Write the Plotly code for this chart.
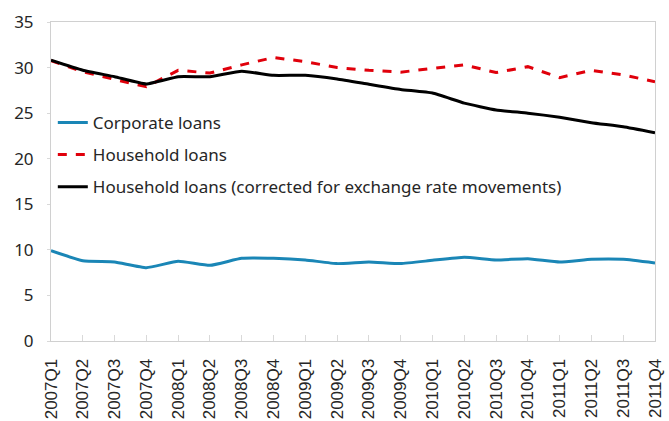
import plotly.graph_objects as go

quarters = [f"{y}Q{q}" for y in range(2007, 2012) for q in range(1, 5)]
corporate = [9.9, 8.8, 8.67, 8.05, 8.74, 8.3, 9.07, 9.07, 8.89, 8.49,
             8.67, 8.49, 8.85, 9.18, 8.89, 9.03, 8.67, 8.96, 8.96, 8.56]
household = [30.75, 29.55, 28.7, 27.9, 29.7, 29.4, 30.3, 31.1, 30.65, 30.0,
             29.7, 29.5, 29.9, 30.3, 29.45, 30.1, 28.9, 29.7, 29.2, 28.45]
household_fx = [30.8, 29.7, 29.0, 28.2, 29.0, 29.0, 29.6, 29.15, 29.15, 28.75,
                28.17, 27.6, 27.2, 26.1, 25.35, 25.0, 24.55, 23.95, 23.5, 22.85]
names = ["Corporate loans", "Household loans",
         "Household loans (corrected for exchange rate movements)"]

fig = go.Figure()
fig.add_trace(go.Scatter(x=quarters, y=corporate, name=names[0], mode="lines", legendgroup="a",
                         line=dict(color="#1a86b6", width=3, shape="spline", smoothing=0.4)))
fig.add_trace(go.Scatter(x=quarters, y=household, name=names[1], mode="lines", legendgroup="b",
                         line=dict(color="#e0000b", width=3, dash="dash")))
fig.add_trace(go.Scatter(x=quarters, y=household_fx, name=names[2], mode="lines", legendgroup="c",
                         line=dict(color="#000000", width=3, shape="spline", smoothing=0.4)))

font = "Noto Sans, Open Sans, sans-serif"
fig.update_layout(
    width=669, height=421,
    margin=dict(l=51, r=14, t=22, b=80),
    plot_bgcolor="white", paper_bgcolor="white",
    font=dict(family=font, size=17, color="#262626"),
    showlegend=True,
    legend=dict(x=0.003, y=0.74, xanchor="left", yanchor="top",
                bgcolor="rgba(0,0,0,0)", font=dict(size=17, color="#262626"),
                itemwidth=30, tracegroupgap=7),
    xaxis=dict(type="category", range=[0, 19], tickangle=-90, automargin=False,
               showgrid=False, showline=True, linecolor="#d0d0d0", linewidth=1,
               mirror=True, ticks="inside", ticklen=6, tickcolor="#d9d9d9",
               ticklabelstandoff=10,
               tickfont=dict(family="Liberation Sans, Arial, sans-serif", size=17, color="#262626")),
    yaxis=dict(range=[0, 35], dtick=5, showgrid=False, showline=True, automargin=False,
               linecolor="#d0d0d0", linewidth=1, mirror=True,
               ticks="outside", ticklen=3, tickcolor="#d9d9d9",
               ticklabelstandoff=10,
               tickfont=dict(size=17, color="#262626"), zeroline=False),
)
fig.write_html("out.html", config={"displayModeBar": False},
               post_script="document.body.style.margin='0';document.body.style.overflow='hidden';")
